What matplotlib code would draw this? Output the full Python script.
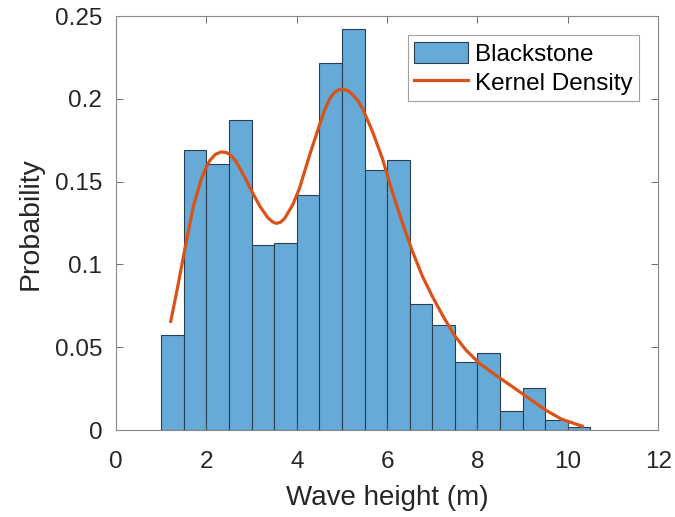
import numpy as np
import matplotlib
matplotlib.use('Agg')
import matplotlib.pyplot as plt
from matplotlib.patches import Patch
from matplotlib.lines import Line2D

plt.rcParams['font.family'] = ['Liberation Sans', 'DejaVu Sans']

# histogram: bins of 0.5 m from 1.0 to 10.5
bin_edges = np.arange(1.0, 10.51, 0.5)
prob = [0.0576, 0.1689, 0.1608, 0.1875, 0.1115, 0.1127, 0.1420, 0.2218, 0.2422,
        0.1568, 0.1632, 0.0762, 0.0632, 0.0410, 0.0465, 0.0115, 0.0253, 0.0059, 0.0018]

# kernel density curve
kde_x = [1.21, 1.38, 1.52, 1.71, 1.89, 2.00, 2.08, 2.20, 2.33, 2.45, 2.55, 2.66,
         2.77, 2.88, 3.00, 3.18, 3.36, 3.46, 3.55, 3.64, 3.73, 3.91, 4.06, 4.28,
         4.50, 4.62, 4.72, 4.82, 4.91, 4.98, 5.06, 5.15, 5.24, 5.35, 5.46, 5.68,
         5.90, 6.12, 6.34, 6.56, 6.78, 7.00, 7.22, 7.48, 7.74, 8.04, 8.40, 8.77,
         9.14, 9.51, 9.87, 10.32]
kde_y = [0.0657, 0.0889, 0.1090, 0.1350, 0.1520, 0.1590, 0.1630, 0.1665, 0.1680,
         0.1675, 0.1657, 0.1620, 0.1566, 0.1510, 0.1444, 0.1353, 0.1283, 0.1258,
         0.1248, 0.1255, 0.1278, 0.1360, 0.1460, 0.1657, 0.1840, 0.1935, 0.1995,
         0.2035, 0.2052, 0.2058, 0.2056, 0.2046, 0.2025, 0.1990, 0.1940, 0.1800,
         0.1636, 0.1434, 0.1250, 0.1080, 0.0930, 0.0808, 0.0697, 0.0576, 0.0485,
         0.0404, 0.0333, 0.0263, 0.0192, 0.0121, 0.0065, 0.0024]

bar_color = '#66AAD7'
line_color = '#D95319'

fig = plt.figure(figsize=(6.75, 5.17), dpi=100)
ax = fig.add_axes([0.172, 0.168, 0.803, 0.801])

ax.bar(bin_edges[:-1], prob, width=np.diff(bin_edges), align='edge',
       color=bar_color, edgecolor='#2b3f4f', linewidth=0.8)
ax.plot(kde_x, kde_y, color=line_color, linewidth=2.3)

ax.set_xlim(0, 12)
ax.set_ylim(0, 0.25)
ax.set_xticks([0, 2, 4, 6, 8, 10, 12])
ax.set_yticks([0, 0.05, 0.1, 0.15, 0.2, 0.25])
ax.set_yticklabels(['0', '0.05', '0.1', '0.15', '0.2', '0.25'])
ax.tick_params(direction='in', top=True, right=True, labelsize=17.5,
               length=5, width=0.6, color='#555555', labelcolor='#262626')
ax.tick_params(axis='y', pad=10)
ax.tick_params(axis='x', pad=15)
for s in ax.spines.values():
    s.set_color('#888888')
    s.set_linewidth(0.8)

ax.set_xlabel('Wave height (m)', fontsize=20, color='#262626', labelpad=9)
ax.set_ylabel('Probability', fontsize=20.5, color='#262626', labelpad=8)

handles = [Patch(facecolor=bar_color, edgecolor='#2b3f4f', linewidth=0.8),
           Line2D([], [], color=line_color, linewidth=2.3)]
leg = ax.legend(handles, ['Blackstone', 'Kernel Density'], loc='upper right',
                fontsize=17.5, fancybox=False, edgecolor='#888888',
                handlelength=2.2, handleheight=1.0, handletextpad=0.3,
                borderpad=0.25, labelspacing=0.2, borderaxespad=0.8)
leg.get_frame().set_linewidth(0.8)

fig.savefig('out.png', dpi=100)
